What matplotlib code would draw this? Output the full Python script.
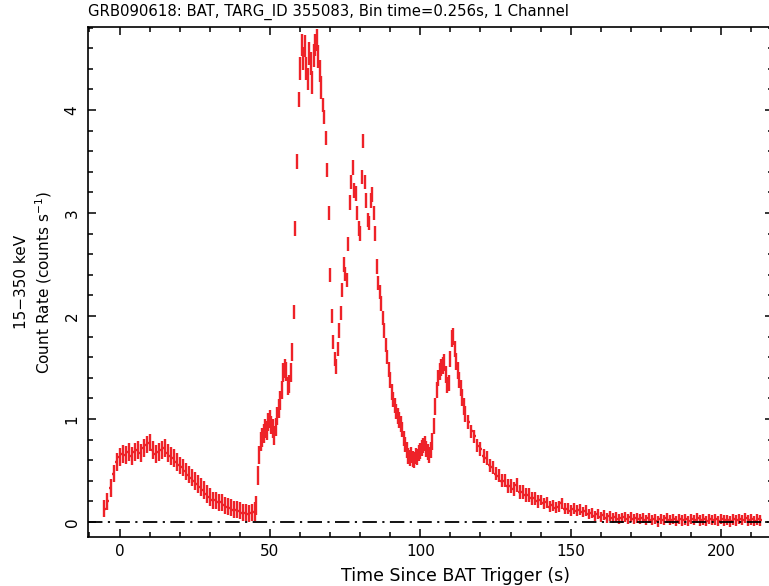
import numpy as np
import matplotlib
matplotlib.use("Agg")
import matplotlib.pyplot as plt
from matplotlib.ticker import MultipleLocator

# light curve
# segment a: t = -5 .. 45 s, 1 s steps
rate_a = [0.13, 0.20, 0.33, 0.47, 0.58, 0.63, 0.66, 0.65, 0.68, 0.64,
          0.68, 0.70, 0.67, 0.72, 0.75, 0.77, 0.70, 0.66, 0.68, 0.70,
          0.72, 0.67, 0.64, 0.62, 0.58, 0.55, 0.53, 0.49, 0.46, 0.43,
          0.40, 0.37, 0.34, 0.31, 0.27, 0.24, 0.21, 0.21, 0.19, 0.19,
          0.16, 0.15, 0.14, 0.12, 0.12, 0.11, 0.09, 0.09, 0.08, 0.09,
          0.10]
# segment b: t = 45.5 .. 115 s, 0.5 s steps
rate_b = [0.16, 0.45, 0.65, 0.78, 0.82, 0.86, 0.91, 0.89, 0.97, 1.00,
          0.94, 0.91, 0.84, 0.92, 1.03, 1.10, 1.18, 1.28, 1.45, 1.49,
          1.46, 1.32, 1.34, 1.45, 1.65, 2.04, 2.85, 3.50, 4.10, 4.40,
          4.63, 4.50, 4.62, 4.40, 4.30, 4.55, 4.45, 4.27, 4.53, 4.63,
          4.68, 4.52, 4.38, 4.22, 4.05, 3.93, 3.73, 3.42, 3.00, 2.40,
          2.00, 1.75, 1.58, 1.51, 1.68, 1.86, 2.03, 2.25, 2.50, 2.41,
          2.35, 2.70, 3.10, 3.30, 3.44, 3.22, 3.19, 3.00, 2.85, 2.80,
          3.35, 3.70, 3.30, 3.12, 2.93, 2.90, 3.12, 3.18, 3.00, 2.80,
          2.48, 2.32, 2.23, 2.12, 1.98, 1.86, 1.72, 1.60, 1.48, 1.38,
          1.26, 1.19, 1.13, 1.07, 1.03, 0.99, 0.95, 0.90, 0.81, 0.75,
          0.70, 0.64, 0.62, 0.65, 0.61, 0.60, 0.64, 0.63, 0.67, 0.69,
          0.72, 0.74, 0.76, 0.71, 0.68, 0.65, 0.70, 0.78, 0.93, 1.12,
          1.28, 1.40, 1.46, 1.50, 1.52, 1.55, 1.43, 1.33, 1.35, 1.58,
          1.78, 1.80, 1.68, 1.56, 1.47, 1.38, 1.30, 1.21, 1.12, 1.05]
# segment c: t = 116 .. 213 s, 1 s steps
rate_c = [0.97, 0.88, 0.83, 0.74, 0.71, 0.64, 0.62, 0.55, 0.53, 0.47,
          0.45, 0.40, 0.40, 0.35, 0.35, 0.32, 0.36, 0.29, 0.29, 0.26,
          0.26, 0.23, 0.23, 0.20, 0.21, 0.18, 0.19, 0.15, 0.16, 0.14,
          0.15, 0.18, 0.13, 0.13, 0.11, 0.13, 0.11, 0.12, 0.10, 0.11,
          0.08, 0.09, 0.06, 0.08, 0.05, 0.07, 0.04, 0.06, 0.04, 0.05,
          0.03, 0.04, 0.05, 0.03, 0.05, 0.03, 0.04, 0.03, 0.04, 0.02,
          0.04, 0.02, 0.03, 0.005, 0.03, 0.02, 0.04, 0.02, 0.03, 0.01,
          0.03, 0.015, 0.025, 0.01, 0.03, 0.02, 0.035, 0.015, 0.025, 0.01,
          0.03, 0.02, 0.025, 0.01, 0.03, 0.015, 0.02, 0.005, 0.025, 0.015,
          0.03, 0.02, 0.04, 0.015, 0.025, 0.01, 0.025, 0.015]

# error bar half-heights, stepwise in time
err_t = [-10, 45, 57.75, 59.75, 67.25, 90, 104, 116, 140]
err_v = [0.085, 0.09, 0.07, 0.11, 0.07, 0.075, 0.08, 0.065, 0.05]

title = "GRB090618: BAT, TARG_ID 355083, Bin time=0.256s, 1 Channel"
red = "#ee2228"

t_a = np.arange(len(rate_a)) * 1.0 - 5
t_b = np.arange(len(rate_b)) * 0.5 + 45.5
t_c = np.arange(len(rate_c)) * 1.0 + 116

fig = plt.figure(figsize=(7.69, 5.86), dpi=100)
ax = fig.add_axes([88 / 769, 1 - 537.3 / 586, 0.891, (537.3 - 27.3) / 586])

for tt, rr, hw in [(t_a, rate_a, 0.5), (t_b, rate_b, 0.25), (t_c, rate_c, 0.5)]:
    ee = np.array(err_v)[np.searchsorted(err_t, tt, side="right") - 1]
    ax.errorbar(tt, rr, yerr=ee, xerr=hw, fmt="none", ecolor=red,
                elinewidth=1.7, capsize=0, zorder=2)

ax.axhline(0, color="black", lw=1.3, dashes=(8, 3, 1.2, 3), zorder=3)

ax.set_xlim(-10.48, 217.3)
ax.set_ylim(-0.149, 4.803)
ax.xaxis.set_major_locator(MultipleLocator(50))
ax.xaxis.set_minor_locator(MultipleLocator(10))
ax.yaxis.set_major_locator(MultipleLocator(1))
ax.yaxis.set_minor_locator(MultipleLocator(0.2))
ax.tick_params(which="both", direction="in", top=True, right=True,
               width=1.1, labelsize=11)
ax.tick_params(which="major", length=6)
ax.tick_params(which="minor", length=3.5)
ax.tick_params(axis="x", pad=5)
ax.tick_params(axis="y", pad=6)
for lab in ax.get_yticklabels():
    lab.set_rotation(90)
    lab.set_va("center")
for s in ax.spines.values():
    s.set_linewidth(1.2)

ax.set_ylabel("15\u2212350 keV\nCount Rate (counts s$^{-1}$)", fontsize=11,
              linespacing=1.25)
ax.yaxis.set_label_coords(-0.05, 0.5)
fig.text(455 / 769, 1 - 576 / 586, "Time Since BAT Trigger (s)",
         ha="center", va="center", fontsize=12.5)
fig.text(88 / 769, 1 - 12 / 586, title, ha="left", va="center", fontsize=10.7)

fig.savefig("out.png", dpi=100)
